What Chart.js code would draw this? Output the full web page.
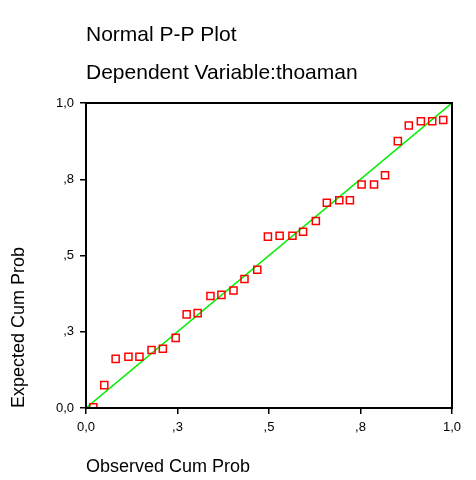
<!DOCTYPE html>
<html>
<head>
<meta charset="utf-8">
<script src="https://cdn.jsdelivr.net/npm/chart.js@4"></script>
<style>
html,body{margin:0;padding:0;background:#fff;}
#wrap{width:476px;height:480px;}
</style>
</head>
<body>
<div id="wrap"><canvas id="c" width="476" height="480"></canvas></div>
<script>
const observed = [0.020,0.050,0.081,0.116,0.146,0.179,0.210,0.245,0.275,0.305,0.340,0.370,0.403,0.433,0.468,
  0.497,0.529,0.564,0.593,0.628,0.658,0.692,0.721,0.753,0.787,0.817,0.852,0.882,0.915,0.946,0.976];
const expected = [0.002,0.075,0.161,0.168,0.168,0.190,0.194,0.230,0.307,0.311,0.367,0.371,0.385,0.423,0.453,
  0.562,0.565,0.565,0.578,0.613,0.673,0.681,0.681,0.733,0.733,0.763,0.875,0.926,0.940,0.940,0.944];
const tickValues = [0, 0.25, 0.5, 0.75, 1];
const tickLabels = ["0,0", ",3", ",5", ",8", "1,0"];
const refLine = [{x:0,y:0},{x:1,y:1}];

const points = observed.map((v,i)=>({x:v, y:expected[i]}));
function lab(v){ const i = tickValues.findIndex(t=>Math.abs(t-v)<1e-6); return i>=0 ? tickLabels[i] : ''; }

const frame = {
  id:'frame',
  afterDatasetsDraw(chart){
    const {ctx, chartArea:a} = chart;
    ctx.save();
    ctx.strokeStyle = '#000';
    ctx.lineWidth = 2;
    ctx.strokeRect(a.left, a.top, a.right-a.left, a.bottom-a.top);
    ctx.restore();
  }
};

const FONT = '"Liberation Sans", Arial, sans-serif';

new Chart(document.getElementById('c'), {
  type:'scatter',
  data:{
    datasets:[
      {type:'line', data:refLine, borderColor:'#00ee00', borderWidth:1.5, pointRadius:0, fill:false, order:2},
      {data:points, pointStyle:'rect', pointRadius:5, pointHoverRadius:5, borderColor:'#ff0000', backgroundColor:'rgba(0,0,0,0)', pointBorderWidth:1.5, borderWidth:1.5, order:1}
    ]
  },
  plugins:[frame],
  options:{
    responsive:false,
    animation:false,
    events:[],
    layout:{padding:{left:0,right:24,top:0,bottom:0}},
    plugins:{
      legend:{display:false},
      tooltip:{enabled:false},
      title:{display:true, text:'Normal P-P Plot', align:'start', fullSize:false, color:'#000',
        font:{family:FONT, size:21, weight:'normal', lineHeight:1.2},
        padding:{top:22.4, bottom:0}},
      subtitle:{display:true, text:'Dependent Variable:thoaman', align:'start', fullSize:false, color:'#000',
        font:{family:FONT, size:21, weight:'normal', lineHeight:1.2},
        padding:{top:12.8, bottom:17.4}}
    },
    scales:{
      x:{type:'linear', min:0, max:1, position:'bottom',
        afterFit(s){ s.height = 72; },
        afterBuildTicks(s){ s.ticks = tickValues.map(v=>({value:v})); },
        ticks:{callback:lab, color:'#000', maxRotation:0, autoSkip:false, padding:6,
          font:{family:FONT, size:13}},
        grid:{display:true, drawOnChartArea:false, drawTicks:true, tickLength:6, color:'#000', lineWidth:1.5},
        border:{display:true, color:'#000', width:2},
        title:{display:true, text:'Observed Cum Prob', align:'start', color:'#000',
          font:{family:FONT, size:18, lineHeight:1.2}, padding:{top:0,bottom:2}}
      },
      y:{type:'linear', min:0, max:1, position:'left',
        afterFit(s){ s.width = 86; },
        afterBuildTicks(s){ s.ticks = tickValues.map(v=>({value:v})); },
        ticks:{callback:lab, color:'#000', autoSkip:false, padding:6,
          font:{family:FONT, size:13}},
        grid:{display:true, drawOnChartArea:false, drawTicks:true, tickLength:6, color:'#000', lineWidth:1.5},
        border:{display:true, color:'#000', width:2},
        title:{display:true, text:'Expected Cum Prob', align:'start', color:'#000',
          font:{family:FONT, size:18, lineHeight:1.2}, padding:{top:8,bottom:0}}
      }
    }
  }
});
</script>
</body>
</html>
